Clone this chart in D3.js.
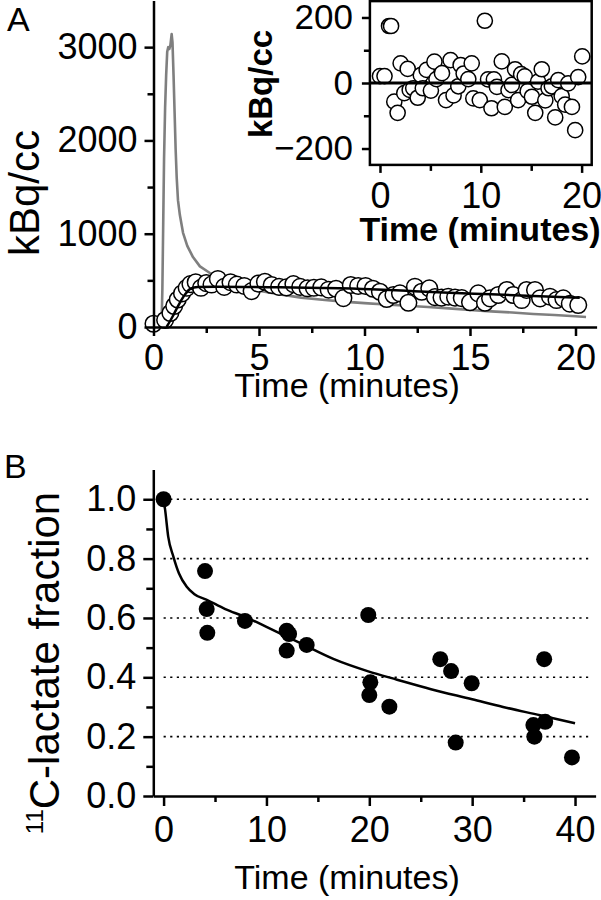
<!DOCTYPE html>
<html><head><meta charset="utf-8">
<script src="https://cdn.jsdelivr.net/npm/d3@7/dist/d3.min.js"></script>
<style>
body{margin:0;background:#fff}
svg text{font-family:"Liberation Sans",Arial,Helvetica,sans-serif;fill:#000}
</style>
</head><body>
<svg id="chart" width="601" height="900"></svg>
<script>
// ---------- Panel A: main plot data ----------
const inputTime = [0,0.3,0.38,0.42,0.46,0.5,0.55,0.6,0.65,0.7,0.75,0.8,0.86,0.9,0.95,1.0,1.05,1.1,1.16,1.25,1.4,1.6,1.87,2.2,2.6,3,3.5,4,5,6,7,8,9,10,11,12,13,14,15,16,17,18,19,20,20.5];
const inputKBq  = [0,0,10,400,1100,1800,2350,2700,2950,3000,2980,3020,3140,3050,2700,2300,1900,1600,1360,1200,1010,870,750,650,590,530,475,440,390,350,315,292,272,256,242,228,214,200,183,168,155,140,128,115,108];

const tissueTime = [0.0,0.55,0.8,0.98,1.15,1.35,1.57,1.75,2.0,2.25,2.5,2.75,3.05,3.35,3.65,3.95,4.3,4.65,4.97,5.28,5.6,5.95,6.3,6.63,6.95,7.3,7.6,7.95,8.3,8.65,9.0,9.35,9.7,10.05,10.4,10.73,11.05,11.37,11.68,12.08,12.39,12.71,13.07,13.34,13.65,13.97,14.29,14.61,15.0,15.39,15.71,15.95,16.34,16.74,17.05,17.45,17.68,18.08,18.32,18.79,19.1,19.42,19.73,20.13];
const tissueKBq  = [35,75,150,225,295,360,420,460,480,420,470,455,515,430,480,455,440,385,465,485,450,430,425,460,430,415,420,425,400,410,310,450,440,440,410,378,300,343,361,260,432,378,415,320,315,325,315,310,265,361,260,307,343,397,343,289,397,397,307,325,289,307,250,236];

const fitATime = [0.62,0.9,1.2,1.5,1.75,2.1,3,6,8,10.3,12,14,16,18,20.2];
const fitAKBq  = [0,110,240,350,410,428,432,425,418,405,388,368,350,332,314];

// ---------- Panel A: inset (residuals) ----------
const residTime = [0.0,0.45,0.9,1.1,1.42,1.75,2.05,2.41,2.75,2.95,3.3,3.74,4.05,4.25,4.63,5.05,5.4,5.6,6.15,6.55,7.0,7.3,7.77,8.0,8.3,8.76,9.1,9.26,9.9,10.4,10.72,11.06,11.3,11.6,12.08,12.38,12.75,13.08,13.4,13.7,14.0,14.36,14.65,15.07,15.4,15.68,16.05,16.4,16.72,17.05,17.38,17.68,18.02,18.37,18.67,19.04,19.36,19.66,20.06];
const residKBq  = [21,21,174,174,-57,-91,60,-31,43,-21,-16,-45,24,-16,40,-23,65,12,30,-52,70,-38,-10,55,29,12,60,-47,-52,190,11,-77,11,-12,66,-73,-22,-6,42,-52,27,20,-25,-42,-91,4,42,-53,-16,-10,-105,9,-40,-66,-1,-73,-144,18,81];

// ---------- Panel B data ----------
const lactTime = [0,4.03,4.19,4.25,7.91,11.97,12.2,11.97,13.91,19.9,20.1,20.0,21.95,26.9,27.95,29.95,28.4,37.0,35.95,36.05,37.1,39.7];
const lactFrac = [1.0,0.758,0.630,0.550,0.590,0.557,0.546,0.490,0.509,0.610,0.383,0.340,0.301,0.461,0.421,0.380,0.180,0.461,0.239,0.200,0.250,0.130];
const fitBTime = [0,0.15,0.45,0.95,1.5,2.25,3,4.2,6,7.9,10,13.3,16.5,19.9,22.7,26,30,33,36.6,40];
const fitBFrac = [1.0,0.964,0.874,0.807,0.75,0.705,0.68,0.661,0.63,0.604,0.57,0.515,0.462,0.42,0.392,0.36,0.326,0.30,0.272,0.245];

// ---------- tick values / labels ----------
const aXMajor = [0,5,10,15,20], aXMinor = [2.5,7.5,12.5,17.5];
const aYMajor = [0,1000,2000,3000], aYMinor = [500,1500,2500];
const iXMajor = [0,10,20], iXMinor = [5,15];
const iYMajor = [-200,0,200], iYMinor = [-100,100];
const bXMajor = [0,10,20,30,40], bXMinor = [5,15,25,35];
const bYMajor = [0,0.2,0.4,0.6,0.8,1.0], bYMinor = [0.1,0.3,0.5,0.7,0.9];
const bGrid = [0.2,0.4,0.6,0.8,1.0];

const svg = d3.select("#chart");
const AX = 2.5;   // axis stroke width
const TICKFS = 36;

function styleAxis(g, fs, bold){
  g.select(".domain").attr("stroke","#000").attr("stroke-width",AX);
  g.selectAll(".tick line").attr("stroke","#000").attr("stroke-width",AX);
  g.selectAll(".tick text").attr("font-size",fs).attr("font-weight",bold?"bold":"normal")
   .attr("font-family",'"Liberation Sans",Arial,sans-serif').attr("fill","#000");
}
function minorAxis(axisFn, scale, vals, size, translate){
  const g = svg.append("g").attr("transform",translate)
    .call(axisFn(scale).tickValues(vals).tickSize(size).tickSizeOuter(0).tickFormat(""));
  g.select(".domain").remove();
  g.selectAll(".tick line").attr("stroke","#000").attr("stroke-width",AX);
}

// ================= Panel A =================
const xA = d3.scaleLinear().domain([0,21]).range([153.5,596.6]);
const yA = d3.scaleLinear().domain([0,3500]).range([327,0.5]);

// gray input curve
svg.append("path")
  .attr("d", d3.line().x((d,i)=>xA(inputTime[i])).y(d=>yA(d))(inputKBq))
  .attr("fill","none").attr("stroke","#7f7f7f").attr("stroke-width",2.6).attr("stroke-linejoin","round");

// tissue circles
svg.append("g").selectAll("circle").data(tissueKBq).join("circle")
  .attr("cx",(d,i)=>xA(tissueTime[i])).attr("cy",d=>yA(d)).attr("r",8.3)
  .attr("fill","#fff").attr("stroke","#000").attr("stroke-width",1.5);

// fit line
svg.append("path")
  .attr("d", d3.line().curve(d3.curveMonotoneX).x((d,i)=>xA(fitATime[i])).y(d=>yA(d))(fitAKBq))
  .attr("fill","none").attr("stroke","#000").attr("stroke-width",2.5);

// axes A
let g = svg.append("g").attr("transform","translate(0,327)")
  .call(d3.axisBottom(xA).tickValues(aXMajor).tickSize(9).tickSizeOuter(0).tickPadding(8).tickFormat(d3.format("d")));
styleAxis(g, TICKFS);
minorAxis(d3.axisBottom, xA, aXMinor, 6, "translate(0,327)");
g = svg.append("g").attr("transform","translate(153.5,0)")
  .call(d3.axisLeft(yA).tickValues(aYMajor).tickSize(9).tickSizeOuter(0).tickPadding(7).tickFormat(d3.format("d")));
styleAxis(g, TICKFS);
minorAxis(d3.axisLeft, yA, aYMinor, 6, "translate(153.5,0)");

svg.append("text").attr("x",347).attr("y",397).attr("text-anchor","middle").attr("font-size",34).text("Time (minutes)");
svg.append("text").attr("transform","translate(39,193) rotate(-90)").attr("text-anchor","middle").attr("font-size",42).text("kBq/cc");
svg.append("text").attr("x",7).attr("y",31).attr("font-size",34).text("A");

// ---------- inset ----------
const xI = d3.scaleLinear().domain([-1,21]).range([369.9,591.7]);
const yI = d3.scaleLinear().domain([-250,250]).range([164.9,1.1]);

svg.append("g").selectAll("circle").data(residKBq).join("circle")
  .attr("cx",(d,i)=>xI(residTime[i])).attr("cy",d=>yI(d)).attr("r",7.6)
  .attr("fill","#fff").attr("stroke","#000").attr("stroke-width",1.5);
svg.append("line").attr("x1",xI(-1)).attr("x2",xI(21)).attr("y1",yI(0)).attr("y2",yI(0))
  .attr("stroke","#000").attr("stroke-width",2.8);
svg.append("rect").attr("x",xI(-1)).attr("y",yI(250)).attr("width",xI(21)-xI(-1)).attr("height",yI(-250)-yI(250))
  .attr("fill","none").attr("stroke","#000").attr("stroke-width",AX);

g = svg.append("g").attr("transform",`translate(0,${yI(-250)})`)
  .call(d3.axisBottom(xI).tickValues(iXMajor).tickSize(8).tickSizeOuter(0).tickPadding(10).tickFormat(d3.format("d")));
styleAxis(g, TICKFS); g.select(".domain").remove();
minorAxis(d3.axisBottom, xI, iXMinor, 6, `translate(0,${yI(-250)})`);
g = svg.append("g").attr("transform",`translate(${xI(-1)},0)`)
  .call(d3.axisLeft(yI).tickValues(iYMajor).tickSize(8).tickSizeOuter(0).tickPadding(9).tickFormat(d3.format("d")));
styleAxis(g, 35); g.select(".domain").remove();
minorAxis(d3.axisLeft, yI, iYMinor, 6, `translate(${xI(-1)},0)`);

svg.append("text").attr("x",480).attr("y",241).attr("text-anchor","middle").attr("font-size",34).attr("font-weight","bold").text("Time (minutes)");
svg.append("text").attr("transform","translate(272,84) rotate(-90)").attr("text-anchor","middle").attr("font-size",33).attr("font-weight","bold").text("kBq/cc");

// ================= Panel B =================
const xB = d3.scaleLinear().domain([-1,42]).range([153.3,595.6]);
const yB = d3.scaleLinear().domain([0,1.1]).range([796,469.6]);

svg.append("g").selectAll("line").data(bGrid).join("line")
  .attr("x1",xB(0)).attr("x2",590).attr("y1",d=>yB(d)).attr("y2",d=>yB(d))
  .attr("stroke","#000").attr("stroke-width",1.6).attr("stroke-dasharray","2.2,4.4");

svg.append("path")
  .attr("d", d3.line().curve(d3.curveMonotoneX).x((d,i)=>xB(fitBTime[i])).y(d=>yB(d))(fitBFrac))
  .attr("fill","none").attr("stroke","#000").attr("stroke-width",2.5);

svg.append("g").selectAll("circle").data(lactFrac).join("circle")
  .attr("cx",(d,i)=>xB(lactTime[i])).attr("cy",d=>yB(d)).attr("r",8)
  .attr("fill","#000");

g = svg.append("g").attr("transform","translate(0,796)")
  .call(d3.axisBottom(xB).tickValues(bXMajor).tickSize(10).tickSizeOuter(0).tickPadding(10).tickFormat(d3.format("d")));
styleAxis(g, TICKFS);
minorAxis(d3.axisBottom, xB, bXMinor, 6, "translate(0,796)");
g = svg.append("g").attr("transform","translate(153.3,0)")
  .call(d3.axisLeft(yB).tickValues(bYMajor).tickSize(10).tickSizeOuter(0).tickPadding(7).tickFormat(d3.format(".1f")));
styleAxis(g, TICKFS);
minorAxis(d3.axisLeft, yB, bYMinor, 7, "translate(153.3,0)");

svg.append("text").attr("x",347).attr("y",889).attr("text-anchor","middle").attr("font-size",34).text("Time (minutes)");
const yt = svg.append("text").attr("transform","translate(59,663) rotate(-90)").attr("text-anchor","middle").attr("font-size",42);
yt.append("tspan").attr("font-size",24).attr("dy",-16).text("11");
yt.append("tspan").attr("dy",16).text("C-lactate fraction");
svg.append("text").attr("x",4).attr("y",478).attr("font-size",34).text("B");
</script>
</body></html>
